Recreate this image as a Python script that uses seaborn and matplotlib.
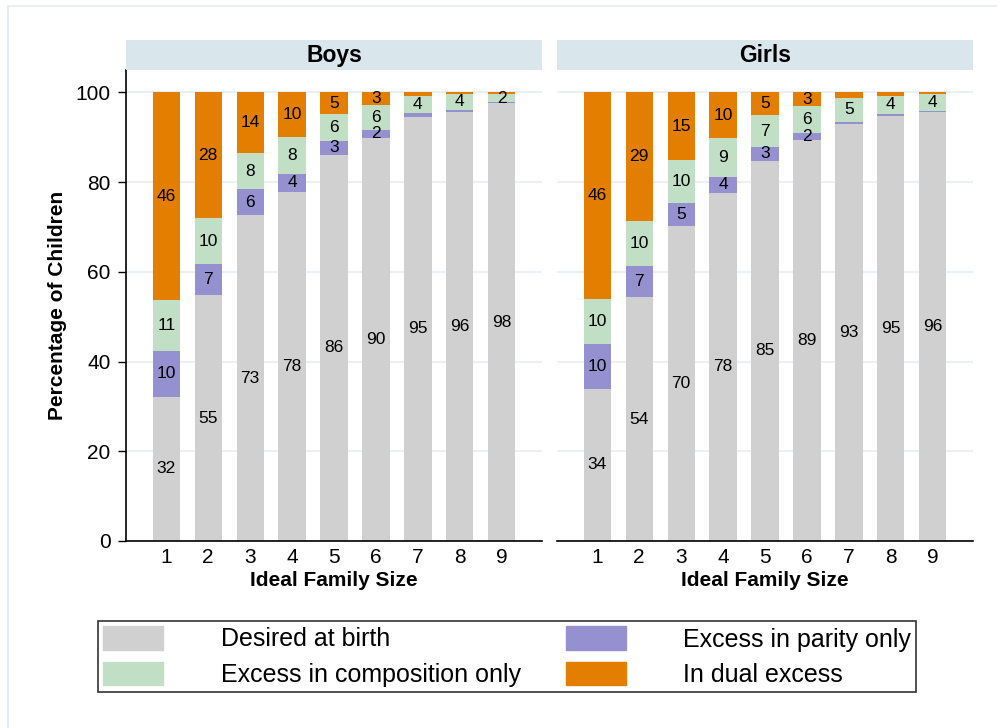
import numpy as np
import pandas as pd
import matplotlib.pyplot as plt
import matplotlib.patches as mpatches
from matplotlib.lines import Line2D
import seaborn as sns

sns.set_style("white")
plt.rcParams['font.family'] = ['Liberation Sans', 'DejaVu Sans']
plt.rcParams['text.color'] = 'black'
plt.rcParams['axes.labelcolor'] = 'black'
plt.rcParams['xtick.color'] = 'black'
plt.rcParams['ytick.color'] = 'black'

family_size = [1, 2, 3, 4, 5, 6, 7, 8, 9]

boys_desired = [32.2, 54.8, 72.6, 77.9, 86.1, 89.9, 94.6, 95.6, 97.6]
boys_parity = [10.1, 6.9, 5.8, 4.0, 3.1, 1.7, 0.8, 0.5, 0.2]
boys_composition = [11.4, 10.2, 8.0, 8.1, 6.0, 5.6, 3.8, 3.6, 1.8]
boys_dual = [46.3, 28.1, 13.6, 10.0, 4.8, 2.8, 0.8, 0.3, 0.4]

girls_desired = [33.9, 54.3, 70.3, 77.6, 84.8, 89.4, 92.9, 94.8, 95.7]
girls_parity = [10.0, 7.0, 5.0, 3.6, 3.0, 1.6, 0.6, 0.4, 0.2]
girls_composition = [10.0, 10.0, 9.6, 8.6, 7.1, 6.0, 5.3, 4.1, 3.8]
girls_dual = [46.1, 28.7, 15.1, 10.2, 5.1, 3.0, 1.2, 0.7, 0.3]

categories = ["Desired at birth", "Excess in parity only",
              "Excess in composition only", "In dual excess"]
colors = ["#d0d0d0", "#9590d0", "#c0dfc4", "#e37e00"]

panels = {
    "Boys": [boys_desired, boys_parity, boys_composition, boys_dual],
    "Girls": [girls_desired, girls_parity, girls_composition, girls_dual],
}

fig = plt.figure(figsize=(9.97, 7.28), dpi=100)

# faint outer frame
fig.add_artist(Line2D([8/997, 8/997], [0, 1 - 6/728], color="#e8eef2", lw=1.5))
fig.add_artist(Line2D([8/997, 1], [1 - 6/728, 1 - 6/728], color="#e8eef2", lw=1.5))

bottom = 1 - 541/728
top = 1 - 70/728
height = top - bottom
lefts = [126/997, 557/997]
width = 416/997

for i, (name, series) in enumerate(panels.items()):
    ax = fig.add_axes([lefts[i], bottom, width, height])
    df = pd.DataFrame(dict(zip(categories, series)))
    df["size"] = family_size
    cum = df[categories].cumsum(axis=1)

    # stacked bars: draw cumulative totals from top down
    for cat, col in reversed(list(zip(categories, colors))):
        sns.barplot(x=df["size"], y=cum[cat], color=col, native_scale=True,
                    width=0.65, saturation=1, linewidth=0, ax=ax)

    # segment labels
    for cat in categories:
        for xv, lo, val in zip(df["size"], cum[cat] - df[cat], df[cat]):
            if val >= 1.5:
                ax.text(xv, lo + val / 2, f"{round(val)}", ha="center",
                        va="center", fontsize=12.5, color="black")

    ax.set_xlim(0.04, 9.96)
    ax.set_ylim(0, 105)
    ax.set_yticks([0, 20, 40, 60, 80, 100])
    ax.set_xticks(family_size)
    ax.yaxis.grid(True, color="#eaf0f3", lw=1.5)
    ax.set_axisbelow(True)
    for s in ["top", "right"]:
        ax.spines[s].set_visible(False)
    ax.spines["bottom"].set_color("black")
    ax.spines["bottom"].set_linewidth(1.2)
    ax.set_xlabel("Ideal Family Size", fontsize=15, fontweight="bold", labelpad=3)
    ax.tick_params(axis="x", length=0, labelsize=15, pad=5)
    if i == 0:
        ax.spines["left"].set_color("black")
        ax.spines["left"].set_linewidth(1.2)
        ax.tick_params(axis="y", length=6, width=1, labelsize=15, left=True, pad=5)
        ax.set_ylabel("Percentage of Children", fontsize=15, fontweight="bold",
                      labelpad=6)
    else:
        ax.spines["left"].set_visible(False)
        ax.tick_params(axis="y", left=False, labelleft=False)
        ax.set_ylabel("")

    # strip title
    sax = fig.add_axes([lefts[i], top, width, 30/728])
    sax.set_facecolor("#d9e6ec")
    sax.set_xticks([])
    sax.set_yticks([])
    for s in sax.spines.values():
        s.set_visible(False)
    sax.text(0.5, 0.47, name, ha="center", va="center", fontsize=16.5,
             fontweight="bold", transform=sax.transAxes)

handles = [mpatches.Patch(color=c, label=l) for c, l in zip(colors, categories)]
order = [0, 2, 1, 3]
leg = fig.legend([handles[k] for k in order], [categories[k] for k in order],
                 loc="center", bbox_to_anchor=(507/997, 1 - 656.5/728), ncol=2,
                 fontsize=18, frameon=True, fancybox=False, edgecolor="black",
                 handlelength=2.4, handleheight=1.05, columnspacing=1.8,
                 labelspacing=0.4, handletextpad=2.3, borderpad=0.2,
                 borderaxespad=0)
leg.get_frame().set_linewidth(1.2)

fig.savefig("out.png", dpi=100, facecolor="white")
